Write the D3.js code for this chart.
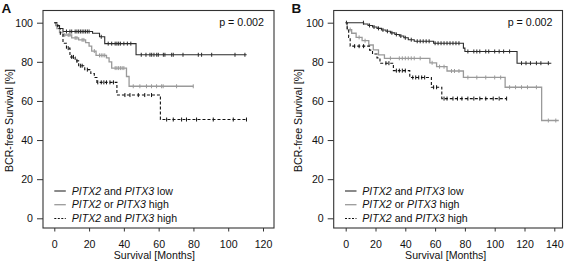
<!DOCTYPE html>
<html><head><meta charset="utf-8">
<script src="https://cdn.jsdelivr.net/npm/d3@7"></script>
<style>
body{margin:0;background:#fff;}
text{font-family:"Liberation Sans",Arial,sans-serif;fill:#111;}
</style></head><body>
<svg id="c" width="567" height="263"></svg>
<script>
// ---------- Data ----------
const yTicks = [0, 20, 40, 60, 80, 100];
const xTicksA = [0, 20, 40, 60, 80, 100, 120];
const xTicksB = [0, 20, 40, 60, 80, 100, 120, 140];
const pText = "p = 0.002";
const legendRows = [["PITX2", " and ", "PITX3", " low"], ["PITX2", " or ", "PITX3", " high"], ["PITX2", " and ", "PITX3", " high"]];

// Panel A
const lowA_t = [0, 1, 3, 5, 22, 26, 29, 47];
const lowA_s = [100, 98.5, 97, 95.5, 94.6, 92.8, 89.3, 83.6];
const lowA_end = 110.6;
const lowA_c = [7, 9, 10, 12, 13, 14, 15, 16, 17, 18, 19, 20, 27, 31, 33, 35, 36, 37, 38, 40, 42, 44, 50, 52.7, 55, 56, 57.3, 58.9, 59.8, 62.7, 63.6, 67.5, 68.4, 74, 82.8, 84.7, 90.5, 103.9, 109.6];
const midA_t = [0, 1.5, 3, 5, 10, 14, 18, 20, 21.5, 24, 30, 31.5, 33, 41.5, 43];
const midA_s = [100, 97, 95, 93.7, 92.2, 91.2, 89.8, 88, 85.5, 83.3, 82, 80, 76.8, 72.5, 67.5];
const midA_end = 80;
const midA_c = [6, 8, 9, 12, 13, 16, 17, 23, 26, 27, 28, 29, 35, 36, 37, 38, 39, 40, 45.4, 49.2, 53, 55.9, 58.8, 61.7, 62.6, 70.3, 79.9];
const highA_t = [0, 2, 3.5, 5, 7, 9, 12, 14, 17.5, 21, 23, 24.5, 36, 61];
const highA_s = [100, 97, 94, 89.5, 87, 82.5, 80.5, 78, 76, 74, 72, 69.5, 63, 50.5];
const highA_end = 110.5;
const highA_c = [8, 10, 11, 13, 15, 16, 19, 25, 27, 28.5, 30, 32, 34, 40.6, 43.5, 48.3, 52, 55.9, 64.6, 68.4, 73.2, 76, 81.8, 91.4, 102.9, 110.5];

// Panel B
const lowB_t = [0, 12, 15, 18, 21, 24, 27, 30, 33, 36, 39, 42, 46, 59, 79, 80, 115];
const lowB_s = [100, 99.3, 98.6, 97.8, 97.1, 96.3, 95.6, 94.8, 94, 93.2, 92.3, 91.3, 90.5, 89.5, 87, 85.3, 79.3];
const lowB_end = 138;
const lowB_c = [0.5, 11.9, 16, 19, 22, 25, 28, 31, 34, 37, 40, 44, 48, 50, 52, 54, 56, 60, 62, 64, 66, 68, 70, 72, 74, 76, 82, 86, 88, 90, 94, 96, 100, 103, 106, 110, 118, 121, 124, 128, 131, 136];
const midB_t = [0, 1, 4, 7, 11, 15.5, 18.5, 22, 26, 56.5, 61, 68, 79, 107, 131.5];
const midB_s = [100, 96.5, 94.6, 92.5, 90.8, 88.6, 86.1, 83.6, 81.8, 79.5, 77.5, 75.3, 72, 67, 50];
const midB_end = 143;
const midB_c = [3, 9, 13, 30, 36, 38, 40, 42, 44, 46, 50, 58, 63, 66, 71, 73, 76, 82, 88, 94, 100, 104, 110, 114, 118, 122, 128, 136, 141];
const highB_t = [0, 1, 2, 3, 16, 18, 21, 23, 32, 43, 57.5, 64.5];
const highB_s = [100, 97, 92.5, 88, 86, 84, 82, 79.3, 75.5, 72, 67, 61.2];
const highB_end = 108;
const highB_c = [6, 9, 12, 27, 29, 34, 36, 38, 40, 45, 47, 49, 51, 53, 59, 61, 66, 68, 72, 75, 78, 82, 86, 90, 94, 99, 103, 108];

// ---------- Drawing ----------
const svg = d3.select("#c");
const styles = [
  {color: "#2b2b2b", dash: null, w: 1.1},
  {color: "#9a9a9a", dash: null, w: 1.3},
  {color: "#111", dash: "3,2", w: 1.1}
];

function panel(opts) {
  const {letter, frameL, frameR, xMax, xRange, xTicks, curves, letterX, legLineX, legTextX, titleX} = opts;
  const frameT = 10.5, frameB = 228;
  const x = d3.scaleLinear().domain([0, xMax]).range(xRange);
  const y = d3.scaleLinear().domain([0, 100]).range([218.3, 22.7]);
  const g = svg.append("g");

  g.append("rect").attr("x", frameL).attr("y", frameT).attr("width", frameR - frameL).attr("height", frameB - frameT)
    .attr("fill", "none").attr("stroke", "#333").attr("stroke-width", 1.1);

  const xa = g.append("g").attr("transform", `translate(0,${frameB})`)
    .call(d3.axisBottom(x).tickValues(xTicks).tickSize(3.5).tickPadding(9));
  xa.select(".domain").remove();
  xa.selectAll("line").attr("stroke", "#333");
  xa.selectAll("text").attr("font-size", 10.6).attr("fill", "#111");

  const ya = g.append("g").attr("transform", `translate(${frameL},0)`)
    .call(d3.axisLeft(y).tickValues(yTicks).tickSize(6).tickPadding(4));
  ya.select(".domain").remove();
  ya.selectAll("line").attr("stroke", "#333");
  ya.selectAll("text").attr("font-size", 10.6).attr("fill", "#111");

  g.append("text").attr("x", (xRange[0] + xRange[1]) / 2 - 4.3).attr("y", 259).attr("text-anchor", "middle")
    .attr("font-size", 10.6).text("Survival [Months]");
  g.append("text").attr("transform", `translate(${titleX},${120.5}) rotate(-90)`).attr("text-anchor", "middle")
    .attr("font-size", 10.6).text("BCR-free Survival [%]");
  g.append("text").attr("x", letterX).attr("y", 12.5).attr("font-size", 13.5).attr("font-weight", "bold").text(letter);
  g.append("text").attr("x", frameR - 10).attr("y", 25.5).attr("text-anchor", "end").attr("font-size", 10.7).text(pText);

  const line = d3.line().x(d => x(d[0])).y(d => y(d[1])).curve(d3.curveStepAfter);
  curves.forEach((c, i) => {
    const st = styles[i];
    const pts = c.t.map((t, j) => [t, c.s[j]]);
    pts.push([c.end, c.s[c.s.length - 1]]);
    g.append("path").attr("d", line(pts)).attr("fill", "none").attr("stroke", st.color)
      .attr("stroke-width", st.w).attr("stroke-dasharray", st.dash);
    const sAt = tt => { let v = c.s[0]; c.t.forEach((t, j) => { if (t <= tt) v = c.s[j]; }); return v; };
    g.selectAll(null).data(c.c).join("line")
      .attr("x1", d => x(d)).attr("x2", d => x(d))
      .attr("y1", d => y(sAt(d)) - 2).attr("y2", d => y(sAt(d)) + 2)
      .attr("stroke", st.color).attr("stroke-width", 1);
  });

  const rowY = [194.5, 208.2, 222];
  legendRows.forEach((r, i) => {
    const st = styles[i];
    g.append("line").attr("x1", legLineX).attr("x2", legLineX + 11.5).attr("y1", rowY[i] - 3.5).attr("y2", rowY[i] - 3.5)
      .attr("stroke", st.color).attr("stroke-width", st.w).attr("stroke-dasharray", st.dash ? "2,1.5" : null);
    const t = g.append("text").attr("x", legTextX).attr("y", rowY[i]).attr("font-size", 10.6);
    r.forEach((part, k) => t.append("tspan").attr("font-style", k % 2 === 0 ? "italic" : "normal").text(part));
  });
}

panel({letter: "A", frameL: 43, frameR: 274, xMax: 120, xRange: [54.3, 263], xTicks: xTicksA,
  letterX: 1.5, legLineX: 54.3, legTextX: 71.7, titleX: 12.5,
  curves: [
    {t: lowA_t, s: lowA_s, end: lowA_end, c: lowA_c},
    {t: midA_t, s: midA_s, end: midA_end, c: midA_c},
    {t: highA_t, s: highA_s, end: highA_end, c: highA_c}
  ]});
panel({letter: "B", frameL: 333.7, frameR: 562.5, xMax: 140, xRange: [345.7, 554.3], xTicks: xTicksB,
  letterX: 291.5, legLineX: 345, legTextX: 362.3, titleX: 301.5,
  curves: [
    {t: lowB_t, s: lowB_s, end: lowB_end, c: lowB_c},
    {t: midB_t, s: midB_s, end: midB_end, c: midB_c},
    {t: highB_t, s: highB_s, end: highB_end, c: highB_c}
  ]});
</script>
</body></html>
